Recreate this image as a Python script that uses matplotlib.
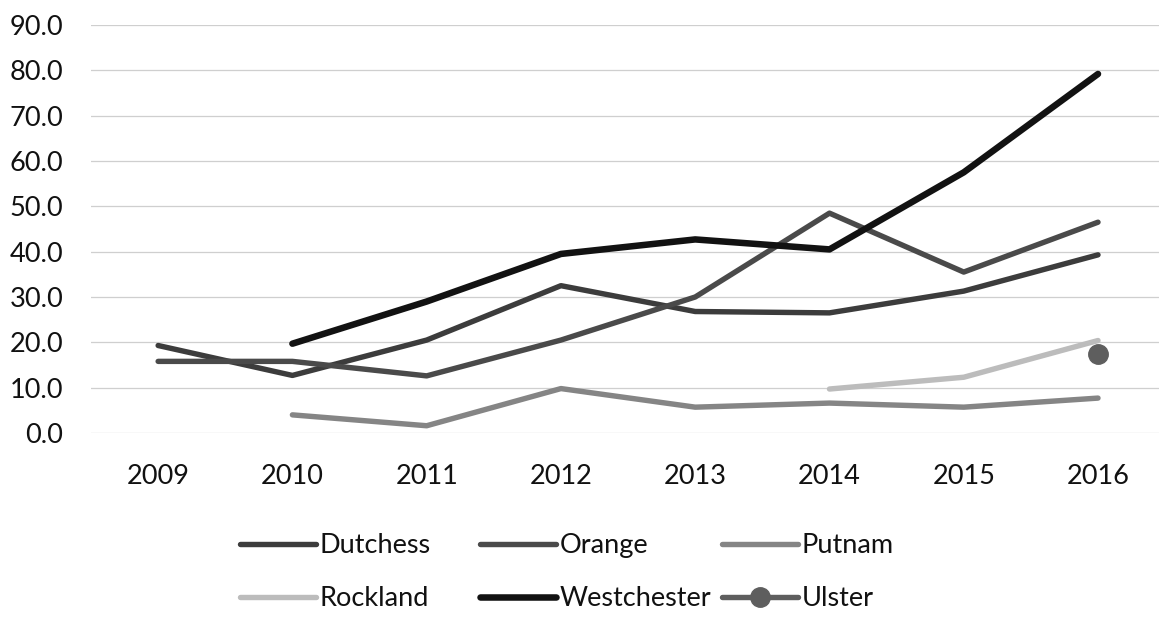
import matplotlib
matplotlib.use("Agg")
import matplotlib.pyplot as plt
import numpy as np

years = ["2009", "2010", "2011", "2012", "2013", "2014", "2015", "2016"]
dutchess = [19.3, 12.7, 20.5, 32.5, 26.8, 26.5, 31.3, 39.3]
orange = [15.8, 15.8, 12.6, 20.5, 30.0, 48.5, 35.5, 46.5]
putnam = [np.nan, 4.0, 1.6, 9.8, 5.7, 6.6, 5.7, 7.7]
rockland = [np.nan, np.nan, np.nan, np.nan, np.nan, 9.7, 12.3, 20.4]
westchester = [np.nan, 19.7, 29.0, 39.5, 42.7, 40.5, 57.5, 79.2]
ulster = [np.nan, np.nan, np.nan, np.nan, np.nan, np.nan, np.nan, 17.4]
yticks = [0, 10, 20, 30, 40, 50, 60, 70, 80, 90]

plt.rcParams['font.family'] = ['Lato', 'DejaVu Sans']
fs = 19.5

fig = plt.figure(figsize=(11.59, 6.19), dpi=100)
W, H = 1159, 619
ax = fig.add_axes([91 / W, 1 - 433 / H, (1159 - 91) / W, (433 - 25) / H])
x = np.arange(len(years))

h_d, = ax.plot(x, dutchess, color='#3c3c3c', lw=3.9, solid_capstyle='round', label='Dutchess')
h_o, = ax.plot(x, orange, color='#4a4a4a', lw=3.9, solid_capstyle='round', label='Orange')
h_p, = ax.plot(x, putnam, color='#858585', lw=3.9, solid_capstyle='round', label='Putnam')
h_r, = ax.plot(x, rockland, color='#bcbcbc', lw=3.9, solid_capstyle='round', label='Rockland')
h_w, = ax.plot(x, westchester, color='#121212', lw=4.7, solid_capstyle='round', label='Westchester')
h_u, = ax.plot(x, ulster, color='#5e5e5e', lw=3.9, marker='o', markersize=14,
               solid_capstyle='round', label='Ulster')

ax.set_xlim(-0.5, 7 + (1159 - 1098) / 134.3)
ax.set_ylim(0, 90)
ax.set_yticks(yticks)
ax.set_yticklabels([f"{v:.1f}" for v in yticks])
ax.set_xticks(x)
ax.set_xticklabels(years)
ax.tick_params(axis='both', length=0, labelsize=fs, colors='#111111')
ax.tick_params(axis='y', pad=20)
ax.tick_params(axis='x', pad=22)
for s in ax.spines.values():
    s.set_visible(False)
ax.grid(axis='y', color='#cfcfcf', lw=0.9)
ax.set_axisbelow(True)

cols = [([h_d, h_r], 240), ([h_o, h_w], 480), ([h_p, h_u], 722)]
for hs, px in cols:
    leg = fig.legend(handles=hs, loc='upper left', bbox_to_anchor=(px / W, 1 - 533 / H),
                     frameon=False, fontsize=fs, handlelength=2.8, handletextpad=0.15,
                     labelspacing=1.05, borderpad=0, borderaxespad=0)
    for t in leg.get_texts():
        t.set_color('#111111')

fig.savefig("out.png", dpi=100)
